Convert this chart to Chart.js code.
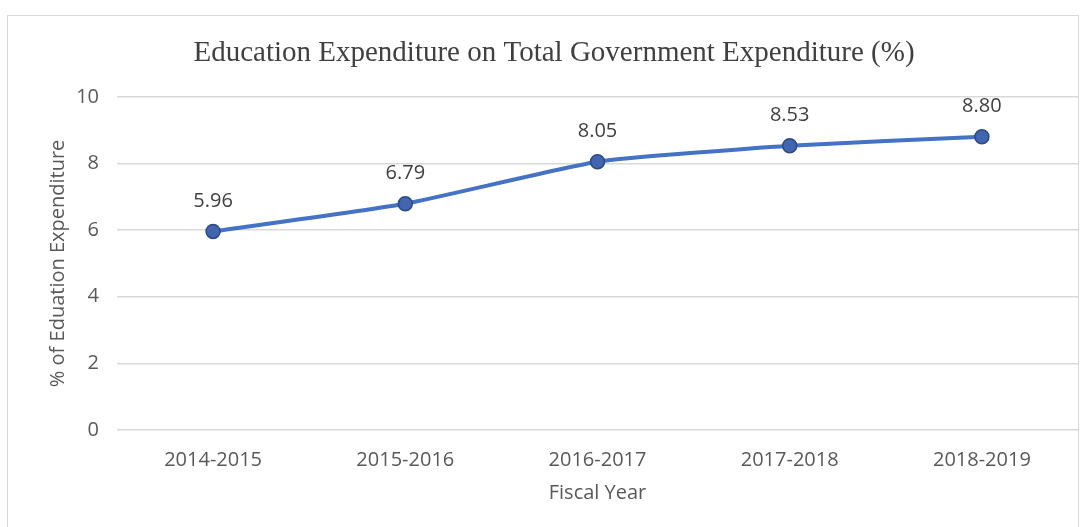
<!DOCTYPE html>
<html>
<head>
<meta charset="utf-8">
<script src="https://cdn.jsdelivr.net/npm/chart.js@4"></script>
<style>
  html, body { margin: 0; padding: 0; background: #fff; }
  #wrap { position: relative; width: 1089px; height: 527px; overflow: hidden; }
  #frame { position: absolute; left: 7px; top: 15px; width: 1072px; height: 540px; border: 1px solid #d9d9d9; box-sizing: border-box; }
  canvas { position: absolute; left: 0; top: 0; }
</style>
</head>
<body>
<div id="wrap">
  <div id="frame"></div>
  <canvas id="myChart"></canvas>
</div>
<script>
const years = ["2014-2015", "2015-2016", "2016-2017", "2017-2018", "2018-2019"];
const shares = [5.96, 6.79, 8.05, 8.53, 8.80];
const yTicks = [0, 2, 4, 6, 8, 10];

const textGray = "#595959";
const baseFont = "'Open Sans', 'Noto Sans', sans-serif";

// value labels above each marker
const pointLabels = {
	id: "pointLabels",
	afterDatasetsDraw(chart) {
		const ctx = chart.ctx;
		const meta = chart.getDatasetMeta(0);
		ctx.save();
		ctx.font = "20px " + baseFont;
		ctx.fillStyle = "#404040";
		ctx.textAlign = "center";
		ctx.textBaseline = "middle";
		meta.data.forEach((pt, i) => {
			ctx.fillText(shares[i].toFixed(2), pt.x, pt.y - 30);
		});
		ctx.restore();
	},
};

const ctx = document.getElementById("myChart");

new Chart(ctx, {
	type: "line",
	data: {
		labels: years,
		datasets: [
			{
				data: shares,
				borderColor: "#4472C4",
				borderWidth: 4,
				tension: 0.15,
				pointRadius: 7,
				pointHoverRadius: 7,
				pointBackgroundColor: "#4364AE",
				pointBorderColor: "#2B4A86",
				pointBorderWidth: 1.5,
			},
		],
	},
	options: {
		responsive: true,
		maintainAspectRatio: false,
		animation: false,
		layout: { padding: { left: 30, right: 11, top: 36, bottom: 19 } },
		plugins: {
			legend: { display: false },
			tooltip: { enabled: false },
			title: {
				display: true,
				text: "Education Expenditure on Total Government Expenditure (%)",
				color: "#404040",
				font: { family: "'Liberation Serif', 'Times New Roman', serif", size: 29, weight: "normal", lineHeight: 1.2 },
				padding: { top: 0, bottom: 26 },
			},
		},
		scales: {
			x: {
				offset: true,
				afterFit(scale) {
					scale.height = 78;
				},
				grid: { display: false, drawTicks: false },
				border: { display: false },
				ticks: { color: textGray, font: { family: baseFont, size: 20 }, padding: 18 },
				title: {
					display: true,
					text: "Fiscal Year",
					color: textGray,
					font: { family: baseFont, size: 20 },
					padding: { top: 0, bottom: 3 },
				},
			},
			y: {
				min: 0,
				max: 10,
				afterBuildTicks(scale) {
					scale.ticks = yTicks.map((v) => ({ value: v }));
				},
				afterFit(scale) {
					scale.width = 87;
				},
				grid: { color: "#d9d9d9", lineWidth: 1.5, drawTicks: false },
				border: { display: false },
				ticks: { color: textGray, font: { family: baseFont, size: 20 }, padding: 18 },
				title: {
					display: true,
					text: "% of Eduation Expenditure",
					color: textGray,
					font: { family: baseFont, size: 20 },
					padding: { top: 16, bottom: 0 },
				},
			},
		},
	},
	plugins: [pointLabels],
});
</script>
</body>
</html>
